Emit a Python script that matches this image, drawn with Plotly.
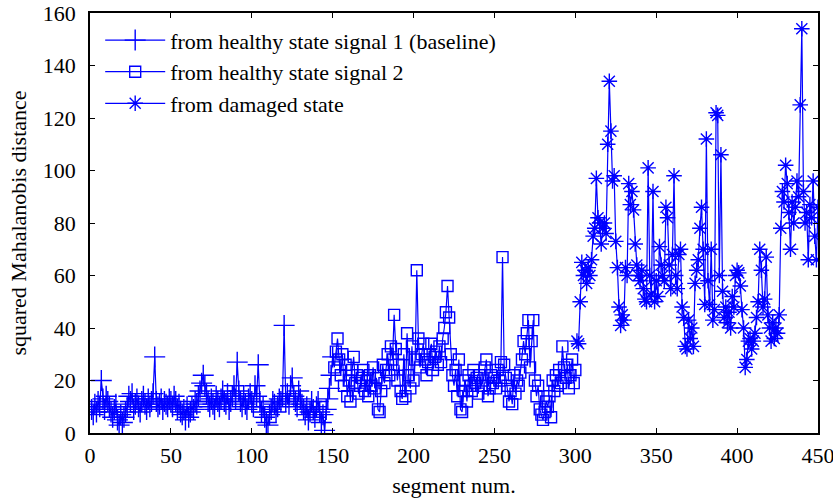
import plotly.graph_objects as go

healthy1_x = list(range(1, 151))
healthy1_y = [
    9, 7, 11, 8, 12, 10, 20, 13, 9, 14,
    12, 10, 8, 6, 9, 11, 5, 3, 7, 4,
    6, 8, 10, 14, 12, 15, 9, 11, 13, 10,
    8, 12, 14, 11, 9, 13, 10, 12, 15, 29,
    12, 10, 11, 13, 9, 12, 11, 10, 13, 12,
    10, 14, 12, 9, 11, 8, 7, 9, 5, 10,
    6, 8, 10, 9, 12, 11, 14, 16, 19, 22,
    18, 15, 12, 10, 13, 11, 9, 14, 12, 10,
    13, 16, 12, 11, 15, 9, 12, 14, 18, 13,
    27, 16, 12, 10, 14, 11, 9, 13, 15, 12,
    10, 18, 14, 26, 12, 8, 10, 6, 4, 3,
    7, 9, 12, 11, 8, 10, 13, 12, 14, 41,
    12, 15, 11, 18, 21, 14, 12, 10, 16, 13,
    11, 9, 7, 10, 5, 8, 12, 9, 6, 10,
    12, 8, 4, 7, 1, 9, 13, 17, 22, 29,
]

healthy2_x = list(range(151, 301))
healthy2_y = [
    25, 31, 36, 28, 22, 30, 18, 26, 14, 20,
    12, 24, 29, 19, 22, 15, 18, 21, 24, 16,
    20, 14, 22, 18, 25, 17, 21, 9, 8, 16,
    26, 19, 24, 30, 22, 33, 28, 45, 32, 20,
    26, 16, 13, 30, 14, 38, 22, 17, 33, 20,
    28, 62, 36, 25, 30, 34, 28, 22, 27, 30,
    34, 24, 29, 31, 26, 33, 27, 36, 40, 46,
    56, 44, 30, 22, 18, 24, 14, 28, 9, 8,
    16, 20, 12, 22, 18, 16, 24, 19, 21, 15,
    22, 18, 20, 25, 28, 14, 17, 22, 19, 21,
    17, 24, 20, 27, 67, 26, 21, 18, 12, 16,
    11, 22, 15, 20, 18, 23, 28, 35, 30, 38,
    43, 25, 35, 43, 20, 14, 18, 9, 7, 5,
    8, 12, 10, 14, 6, 20, 16, 22, 18, 24,
    19, 33, 25, 21, 26, 17, 22, 28, 19, 24,
]

damaged_x = list(range(301, 451))
damaged_y = [
    35, 34, 50, 65, 60, 62, 57, 63, 60, 66,
    75, 78, 97, 82, 80, 72, 78, 80, 76, 110,
    134, 115, 96, 98, 73, 63, 48, 41, 45, 43,
    63, 60, 95, 87, 92, 85, 72, 64, 60, 58,
    62, 55, 51, 50, 101, 60, 53, 92, 50, 58,
    52, 71, 64, 60, 58, 86, 82, 64, 55, 68,
    98, 60, 55, 68, 70, 48, 44, 33, 32, 43,
    36, 40, 33, 57, 62, 66, 78, 86, 70, 49,
    112, 58, 49, 70, 43, 47, 122, 121, 60, 106,
    54, 44, 48, 42, 46, 40, 52, 48, 60, 62,
    61, 56, 47, 40, 25, 28, 35, 36, 32, 35,
    38, 44, 50, 70, 62, 48, 51, 67, 45, 40,
    35, 42, 36, 40, 38, 45, 78, 92, 88, 102,
    95, 84, 70, 88, 80, 86, 96, 90, 125, 154,
    92, 80, 84, 66, 87, 82, 96, 75, 66, 86,
]

x_ticks = [0, 50, 100, 150, 200, 250, 300, 350, 400, 450]
y_ticks = [0, 20, 40, 60, 80, 100, 120, 140, 160]

BLUE = "#0000FF"
FONT = "Times New Roman, Liberation Serif, serif"
FS = 22

fig = go.Figure()
fig.add_trace(go.Scatter(
    x=healthy1_x, y=healthy1_y, mode="lines+markers",
    name="from healthy state signal 1 (baseline)",
    line=dict(color=BLUE, width=1.2),
    marker=dict(symbol="cross-thin", size=15, color=BLUE,
                line=dict(color=BLUE, width=1.4)),
))
fig.add_trace(go.Scatter(
    x=healthy2_x, y=healthy2_y, mode="lines+markers",
    name="from healthy state signal 2",
    line=dict(color=BLUE, width=1.2),
    marker=dict(symbol="square-open", size=11, color=BLUE,
                line=dict(color=BLUE, width=1.4)),
))
fig.add_trace(go.Scatter(
    x=damaged_x, y=damaged_y, mode="lines+markers",
    name="from damaged state",
    line=dict(color=BLUE, width=1.2),
    marker=dict(symbol="asterisk-open", size=13, color=BLUE,
                line=dict(color=BLUE, width=1.4)),
))

axis_common = dict(
    showline=True, linecolor="black", linewidth=1.5, mirror="ticks",
    ticks="inside", ticklen=5, tickcolor="black", tickwidth=1,
    showgrid=False, zeroline=False, automargin=False,
    ticklabeloverflow="allow",
    tickfont=dict(family=FONT, size=FS, color="black"),
)

fig.update_layout(
    width=833, height=501,
    margin=dict(l=90, r=15, t=13, b=68),
    plot_bgcolor="white", paper_bgcolor="white",
    font=dict(family=FONT, size=FS, color="black"),
    xaxis=dict(range=[0, 450], tickvals=x_ticks, ticklabelstandoff=2,
               title=dict(text="segment num.", font=dict(family=FONT, size=FS), standoff=10),
               **axis_common),
    yaxis=dict(range=[0, 160], tickvals=y_ticks, ticklabelstandoff=8,
               title=dict(text="squared Mahalanobis distance", font=dict(family=FONT, size=FS), standoff=10),
               **axis_common),
    legend=dict(x=0.014, y=0.985, xanchor="left", yanchor="top",
                bgcolor="rgba(255,255,255,0)", borderwidth=0,
                font=dict(family=FONT, size=FS, color="black"),
                itemwidth=60, tracegroupgap=0),
    showlegend=True,
)

fig.write_html("out.html", config={"displayModeBar": False},
               post_script="document.body.style.margin='0px';")
